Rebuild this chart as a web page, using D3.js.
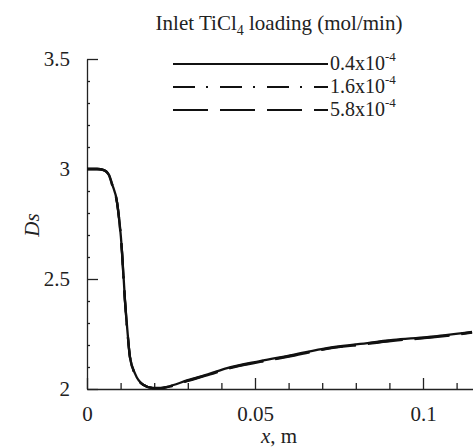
<!DOCTYPE html>
<html>
<head>
<meta charset="utf-8">
<script src="https://cdn.jsdelivr.net/npm/d3@7"></script>
<style>
  html, body { margin: 0; padding: 0; background: #fff; }
  svg { display: block; }
  text { font-family: "Liberation Serif", "DejaVu Serif", serif; fill: #222; }
</style>
</head>
<body>
<svg id="chart" width="473" height="448"></svg>
<script>
// ---- data ----
const xPos = [0, 0.003, 0.005, 0.0065, 0.0075, 0.009, 0.0104, 0.0113, 0.012, 0.0128, 0.0143, 0.0167, 0.0196, 0.022, 0.0238, 0.03, 0.0366, 0.0417, 0.0515, 0.0613, 0.0714, 0.0813, 0.0911, 0.1012, 0.1146];
const ds04 = [3.0, 3.0, 2.995, 2.975, 2.93, 2.845, 2.63, 2.405, 2.27, 2.145, 2.07, 2.02, 2.005, 2.005, 2.01, 2.04, 2.07, 2.095, 2.127, 2.155, 2.186, 2.205, 2.223, 2.236, 2.26];
const ds16 = [3.0, 3.0, 2.995, 2.974, 2.928, 2.842, 2.626, 2.402, 2.268, 2.144, 2.069, 2.019, 2.004, 2.004, 2.009, 2.038, 2.068, 2.093, 2.125, 2.153, 2.184, 2.203, 2.221, 2.234, 2.258];
const ds58 = [3.0, 3.0, 2.995, 2.973, 2.926, 2.84, 2.622, 2.398, 2.265, 2.142, 2.068, 2.019, 2.004, 2.004, 2.008, 2.037, 2.066, 2.091, 2.123, 2.151, 2.182, 2.201, 2.219, 2.232, 2.256];
const seriesLabels = ["0.4x10", "1.6x10", "5.8x10"];
const seriesExp = "-4";
const xMajor = [0, 0.05, 0.1];
const xMinor = [0.01, 0.02, 0.03, 0.04, 0.06, 0.07, 0.08, 0.09, 0.11];
const yMajor = [2, 2.5, 3, 3.5];
const yMinor = [2.1, 2.2, 2.3, 2.4, 2.6, 2.7, 2.8, 2.9, 3.1, 3.2, 3.3, 3.4];

const series = [
  { values: ds04, dash: null },
  { values: ds16, dash: "22,11,2,12" },
  { values: ds58, dash: "35,12" }
];

const svg = d3.select("#chart");
const x = d3.scaleLinear().domain([0, 0.115]).range([87, 473.4]);
const y = d3.scaleLinear().domain([2, 3.5]).range([389, 59]);
const fmt = d => String(d);

// minor ticks
svg.append("g").attr("transform", "translate(0,389)")
  .call(d3.axisBottom(x).tickValues(xMinor).tickSize(-6).tickFormat(""))
  .call(g => g.select(".domain").remove());
svg.append("g").attr("transform", "translate(87,0)")
  .call(d3.axisLeft(y).tickValues(yMinor).tickSize(-3).tickFormat(""))
  .call(g => g.select(".domain").remove());

// major axes
const xAxis = svg.append("g").attr("transform", "translate(0,389)")
  .call(d3.axisBottom(x).tickValues(xMajor).tickSize(-11).tickSizeOuter(0).tickPadding(17).tickFormat(fmt));
const yAxis = svg.append("g").attr("transform", "translate(87,0)")
  .call(d3.axisLeft(y).tickValues(yMajor).tickSize(-11).tickSizeOuter(0).tickPadding(17).tickFormat(fmt));
[xAxis, yAxis].forEach(g => {
  g.selectAll("text").attr("font-size", 21).attr("fill", "#222");
});
svg.selectAll("g line, g path").attr("stroke", "#222").attr("stroke-width", 1.3);

// curves
const line = d3.line().x((d, i) => x(xPos[i])).y(d => y(d)).curve(d3.curveMonotoneX);
series.forEach(s => {
  svg.append("path").datum(s.values)
    .attr("d", line)
    .attr("fill", "none")
    .attr("stroke", "#111")
    .attr("stroke-width", 2.3)
    .attr("stroke-dasharray", s.dash);
});

// title
const title = svg.append("text").attr("x", 279).attr("y", 30).attr("text-anchor", "middle").attr("font-size", 21);
title.append("tspan").text("Inlet TiCl");
title.append("tspan").attr("font-size", 14).attr("dy", 5).text("4");
title.append("tspan").attr("dy", -5).text(" loading (mol/min)");

// legend
const legY = [64, 87, 110];
series.forEach((s, i) => {
  svg.append("line").attr("x1", 173).attr("x2", 328).attr("y1", legY[i]).attr("y2", legY[i])
    .attr("stroke", "#111").attr("stroke-width", 2).attr("stroke-dasharray", s.dash);
  const t = svg.append("text").attr("x", 330).attr("y", legY[i] + 6).attr("font-size", 20);
  t.append("tspan").text(seriesLabels[i]);
  t.append("tspan").attr("font-size", 13).attr("dy", -9).text(seriesExp);
});

// axis labels
svg.append("text").attr("x", 279).attr("y", 443).attr("text-anchor", "middle").attr("font-size", 21)
  .html('<tspan font-style="italic">x</tspan>, m');
svg.append("text").attr("transform", "translate(39,225) rotate(-90)").attr("text-anchor", "middle")
  .attr("font-size", 21).attr("font-style", "italic").text("Ds");
</script>
</body>
</html>
